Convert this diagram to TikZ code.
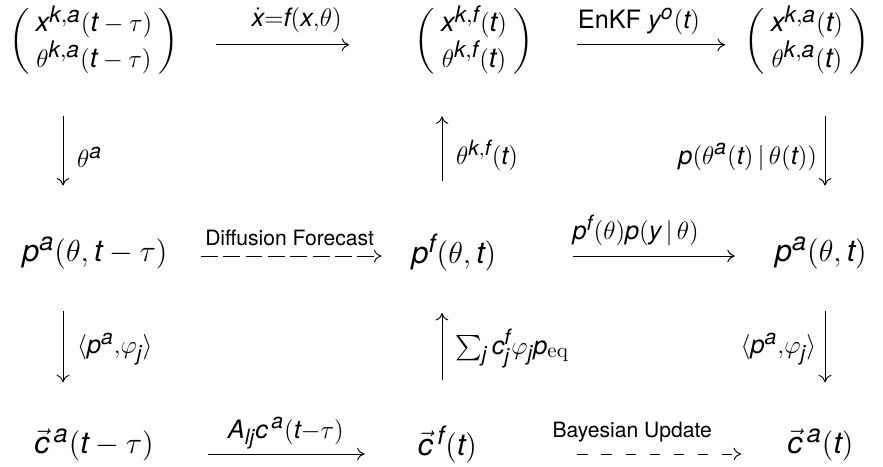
\documentclass[tikz,border=0pt]{standalone}
\usepackage{amsmath,amssymb}
\usepackage{fontspec}
\setmainfont{TeX Gyre Heros}
\usepackage[italic,basic]{mathastext}
\usetikzlibrary{arrows.meta,positioning}
\newcommand{\arlbl}[1]{$\scriptstyle #1$}
\newcommand{\cmrm}[1]{\text{\fontfamily{lmr}\selectfont #1}}
\tikzset{
  ent/.style={inner sep=0pt,font=\Large},
  vecbox/.style={inner sep=0pt,font=\fontsize{13}{15.6}\selectfont\setlength{\arraycolsep}{3pt}},
  lbl/.style={inner sep=0pt,font=\Large},
  ar/.style={-{To[length=3.5pt,width=6pt]},line width=0.45pt},
  dashlong/.style={dash pattern=on 8pt off 2.6pt},
  dashshort/.style={dash pattern=on 5pt off 6.4pt},
}

\begin{document}
\begin{tikzpicture}
    \useasboundingbox (0,0) rectangle (14.717,7.767);
    % columns of the vertical arrows
    \coordinate (g1) at (1.05,0);
    \coordinate (g2) at (7.367,0);
    \coordinate (g3) at (13.75,0);
    % ensemble
    \node[vecbox] (a1) at (1.567,7.08) {$\left(\begin{array}{c} x^{k,a}(t-\tau)\\ \theta^{k,a}(t-\tau)\end{array}\right)$};
    \node[vecbox] (a2) at (7.9,7.08) {$\left(\begin{array}{c} x^{k,f}(t)\\ \theta^{k,f}(t)\end{array}\right)$};
    \node[vecbox] (a3) at (13.45,7.08) {$\left(\begin{array}{c} x^{k,a}(t)\\ \theta^{k,a}(t)\end{array}\right)$};
    % densities
    \node[ent] (b1) at (1.583,3.55) {$p^a(\theta,t-\tau)$};
    \node[ent] (b2) at (7.567,3.55) {$p^f(\theta,t)$};
    \node[ent] (b3) at (13.683,3.55) {$p^a(\theta,t)$};
    % coefficients
    \node[ent] (c1) at (1.567,0.35) {$\vec{c}^{\,a}(t-\tau)$};
    \node[ent] (c2) at (7.458,0.35) {$\vec{c}^{\,f}(t)$};
    \node[ent] (c3) at (13.675,0.35) {$\vec{c}^{\,a}(t)$};

    \draw[ar,shorten <=0.617cm,shorten >=1.083cm] ([yshift=-0.06cm]a1.east) -- ([yshift=-0.06cm]a2.west)
        node[midway,lbl,above=5.5pt] {\arlbl{\dot{x}=f(x,\theta)}};
    \draw[ar,shorten <=0.717cm,shorten >=0.317cm] ([yshift=-0.06cm]a2.east) -- ([yshift=-0.06cm]a3.west)
        node[midway,lbl,above=4.5pt] {\arlbl{\text{EnKF }y^o(t)}};
    \draw[ar,dashlong,shorten <=0.55cm,shorten >=0.5cm] ([yshift=-0.05cm]b1.east) -- ([yshift=-0.05cm]b2.west)
        node[midway,lbl,above=4.5pt] {\normalsize Diffusion Forecast};
    \draw[ar,shorten <=1.267cm,shorten >=0.667cm] ([yshift=-0.05cm]b2.east) -- ([yshift=-0.05cm]b3.west)
        node[midway,lbl,above=4.5pt] {\arlbl{p^f(\theta)p(y\,|\,\theta)}};
    \draw[ar,shorten <=0.9cm,shorten >=0.883cm] ([yshift=-0.15cm]c1.east) -- ([yshift=-0.15cm]c2.west)
        node[midway,lbl,above=2pt] {\arlbl{A_{lj}c^{\,a}(t-\tau)}};
    \draw[ar,dashshort,shorten <=1.667cm,shorten >=0.767cm] ([yshift=-0.15cm]c2.east) -- ([yshift=-0.15cm]c3.west)
        node[midway,lbl,above=5.5pt] {\normalsize Bayesian Update};

    \draw[ar,shorten <=0.65cm,shorten >=0.85cm] (a1.south -| g1) -- (b1.north -| g1)
        node[midway,lbl,right=6.5pt] {\arlbl{\theta^a}};
    \draw[ar,shorten <=0.683cm,shorten >=0.767cm] (b1.south -| g1) -- (c1.north -| g1)
        node[midway,lbl,right=6.5pt] {\arlbl{\langle p^a,\varphi_j\rangle}};
    \draw[ar,shorten <=0.883cm,shorten >=0.65cm] (b2.north -| g2) -- (a2.south -| g2)
        node[midway,lbl,right=6.5pt] {\arlbl{\theta^{k,f}(t)}};
    \draw[ar,shorten <=0.767cm,shorten >=0.683cm] (c2.north -| g2) -- (b2.south -| g2)
        node[midway,lbl,right=6pt] {\arlbl{\sum_j c_j^f\varphi_j p_{\cmrm{eq}}}};
    \draw[ar,shorten <=0.65cm,shorten >=0.85cm] (a3.south -| g3) -- (b3.north -| g3)
        node[midway,lbl,left=3.5pt] {\arlbl{p(\theta^a(t)\,|\,\theta(t))}};
    \draw[ar,shorten <=0.683cm,shorten >=0.767cm] (b3.south -| g3) -- (c3.north -| g3)
        node[midway,lbl,left=4pt] {\arlbl{\langle p^a,\varphi_j\rangle}};
\end{tikzpicture}
\end{document}
